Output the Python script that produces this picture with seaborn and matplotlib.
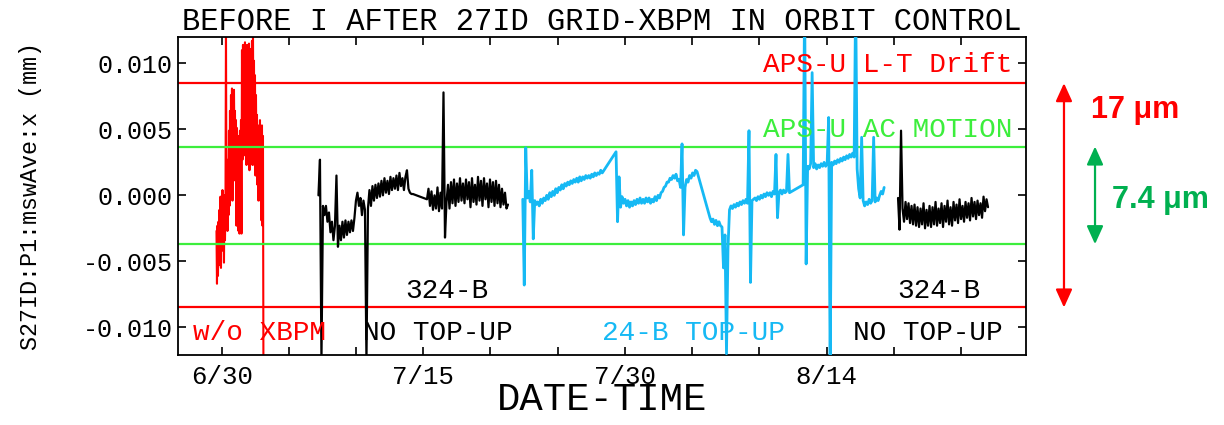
import numpy as np
import pandas as pd
import matplotlib
matplotlib.use("Agg")
import matplotlib.pyplot as plt
import matplotlib.transforms as mtransforms
import seaborn as sns

# ---------------------------------------------------------------------------
# Horizontal beam position S27ID:P1:mswAve:x, stored in micrometres.
# Time is counted in days after 6/30; each run is sampled at a fixed interval.
# ---------------------------------------------------------------------------
FAST_STEP = 0.0372   # days between samples, run without the XBPM
SLOW_STEP = 0.1116   # days between samples, all other runs

# w/o XBPM
wo_xbpm_start = -0.387
wo_xbpm_um = [
    -2.7, -6.7, -2.3, -6.1, -2.0, -5.3, -1.1, -4.5, -0.1, -5.5,
    -0.4, -4.2, 0.4, -3.8, -0.4, -5.1, 0.0, -3.4, -0.8, 13.0,
    -1.5, 1.5, -2.7, 2.7, -1.5, 4.9, -0.8, 6.4, 0.4, 7.6,
    1.5, 8.1, -0.4, 7.2, 2.3, 8.0, 3.4, 6.4, 1.1, 5.7,
    -2.3, 5.1, 0.0, 4.2, -2.7, 4.5, -2.9, 4.9, -0.4, 5.7,
    -2.9, 11.0, 2.7, 11.4, 4.2, 11.1, 3.4, 11.6, 3.0, 11.4,
    2.3, 11.0, 2.7, 11.4, 3.4, 11.5, 1.9, 11.1, 2.7, 10.8,
    3.8, 11.7, 2.3, 12.5, 3.4, 10.2, 2.3, 9.1, 1.5, 7.6,
    2.7, 6.1, 0.8, 5.3, -0.4, 4.9, 0.4, 5.7, -0.4, 4.5,
    -1.9, 5.3, -2.3, 4.5, -15.0,
]

# 324-B, no top-up (first period, two runs)
no_topup1a_start = 7.20
no_topup1a_um = [
    0.0, 2.7, -12.5, -0.8, -1.5, -0.8, -2.0, -1.3, -2.8, -2.0,
    -3.4, -2.3, 1.5, -3.9, -2.3, -3.4, -2.0, -3.2, -1.9, -3.0,
    -2.0, -2.8, -1.9, -2.7, -1.7, -0.4, 0.2, -0.8, -0.2, -1.5,
    -0.4, -1.1, -12.5, -1.0, 0.4, -0.8, 0.7, -0.4, 0.8, -0.2,
    0.9, -0.1, 1.1, 0.0, 1.3, 0.2, 1.1, 0.1, 1.4, 0.4,
    1.3, 0.5, 1.5, 0.4, 1.7, 0.7, 1.3, 0.4, 1.4, 1.9,
    0.5, 0.2, 0.1, 0.1,
]
no_topup1b_start = 15.275
no_topup1b_um = [
    -0.3, 0.5, -0.8, 0.3, -1.1, 0.0, -1.0, 0.6, -1.2, 0.2,
    -1.0, 7.8, -3.2, -0.5, 0.8, -1.0, 1.0, -0.6, 1.2, -0.8,
    0.9, -0.5, 1.3, -0.4, 0.9, -0.6, 1.2, -0.3, 1.0, -0.9,
    1.3, -0.5, 0.8, -0.7, 1.4, -0.4, 1.1, -0.8, 1.3, -0.3,
    0.9, -0.9, 1.2, -0.5, 1.0, -0.8, 1.1, -0.6, 0.8, -0.9,
    0.5, -0.7, 0.2, -1.0, -0.7,
]

# 24-B, top-up (four runs)
topup_a_start = 22.40
topup_a_um = [
    -0.3, -6.8, 3.6, -0.2, 0.3, -0.5, 1.9, -3.3, -0.4, -0.7,
    -0.5, -0.8, -0.3, -0.6, -0.2, -0.4, 0.0, -0.3, 0.2, -0.1,
    0.3, 0.0, 0.5, 0.2, 0.6, 0.4, 0.8, 0.5, 0.9, 0.7,
    1.0, 0.8, 1.1, 0.9, 1.2, 1.0, 1.3, 1.0, 1.4, 1.1,
    1.4, 1.2, 1.5, 1.3, 1.5, 1.3, 1.6, 1.4, 1.7, 1.5,
    1.7, 1.6, 1.9, 1.7,
]
topup_b_start = 29.34
topup_b_um = [
    3.3, -2.0, 1.4, -0.9, -0.1, -0.6, -0.3, -0.8, -0.4, -0.9,
    -0.5, -0.8, -0.4, -0.7, -0.3, -0.6, -0.2, -0.6, -0.3, -0.6,
    -0.2, -0.5, -0.2, -0.6, -0.3, -0.5, -0.1, -0.4, 0.0, -0.2,
    0.2, 0.3, 0.6, 0.7, 1.0, 1.0, 1.3, 1.2, 1.5, 1.3,
    1.6, 1.1, 1.2, 0.6, 3.9, -3.0, 0.6, 1.2, 1.0, 1.5,
    1.3, 1.7, 1.5, 1.9, 1.8,
]
topup_c_start = 36.33
topup_c_um = [
    -1.7, -2.0, -1.8, -2.2, -1.9, -2.3, -2.0, -2.3, -2.4, -5.5,
    -3.0, -12.0, -4.0, -1.1, -0.8, -1.0, -0.7, -0.9, -0.6, -0.8,
    -0.5, -0.7, -0.4, -0.6, -0.3, -0.6, 4.9, -6.6, -0.4, -0.3,
    -0.2, -0.4, -0.1, -0.3, 0.0, -0.2, 0.1, -0.1, 0.2, 0.0,
    0.2, -0.1, 0.3, 0.1, 3.1, -1.7, 0.2, 0.4, 0.1, 0.4,
    0.2, 0.3, 3.1, 0.2,
]
topup_d_start = 43.26
topup_d_um = [
    0.8, 15.0, -5.2, 2.2, 2.0, 2.4, 9.3, 2.1, 2.4, 2.0,
    2.3, 2.1, 2.4, 2.2, 2.5, 2.2, 2.4, 5.9, -13.0, 2.5,
    2.3, 2.6, 2.4, 2.7, 2.5, 2.8, 2.6, 2.9, 2.7, 3.0,
    2.8, 3.1, 2.9, 3.2, 2.9, 15.0, 2.0, 0.5, -0.2, 4.4,
    -0.4, -0.8, -0.5, -0.7, -0.3, -0.6, -0.4, 4.4, -0.5, -0.2,
    -0.4, 0.0, 0.3, 0.1, 0.6,
]

# 324-B, no top-up (second period)
no_topup2_start = 50.32
no_topup2_um = [
    -0.2, -2.6, 4.9, -1.0, -2.0, -0.5, -1.8, -0.6, -2.1, -0.8,
    -2.2, -0.7, -2.3, -0.9, -2.4, -1.0, -2.2, -0.6, -2.5, -1.1,
    -2.3, -0.8, -2.4, -0.9, -2.2, -0.5, -2.3, -1.0, -2.1, -0.6,
    -2.4, -0.8, -2.0, -0.4, -2.2, -0.9, -2.3, -0.5, -1.9, -0.7,
    -2.1, -0.3, -1.8, -0.8, -2.0, -0.5, -1.7, -0.6, -1.9, -0.2,
    -1.6, -0.5, -1.8, -0.4, -1.5, -0.6, -1.7, -0.1, -1.2, -0.3,
    -0.9,
]

# Stability specifications (full peak-to-peak band, micrometres)
lt_drift_um = 17.0
ac_motion_um = 7.4

# Axis ticks
date_tick_days = [0, 15, 30, 45]
date_tick_labels = ["6/30", "7/15", "7/30", "8/14"]
pos_ticks = [-0.010, -0.005, 0.000, 0.005, 0.010]
pos_tick_labels = ["-0.010", "-0.005", "0.000", "0.005", "0.010"]

title_text = "BEFORE I AFTER 27ID GRID-XBPM IN ORBIT CONTROL"
xlabel_text = "DATE-TIME"
ylabel_text = "S27ID:P1:mswAve:x (mm)"

# ---------------------------------------------------------------------------
RED = "#ff0000"
GREEN = "#3cee3c"
CYAN = "#16b9f4"
BLACK = "#000000"
DARK_GREEN = "#00b050"


def run_frame(start, step, values_um):
    values = np.asarray(values_um, dtype=float)
    return pd.DataFrame({
        "day": start + step * np.arange(len(values)),
        "pos_mm": values / 1000.0,
    })


# (data, colour, line width, z-order)
traces = {
    "wo_xbpm": (pd.concat([run_frame(wo_xbpm_start, FAST_STEP, wo_xbpm_um)]), RED, 1.5, 1),
    "no_topup1": (pd.concat([run_frame(no_topup1a_start, SLOW_STEP, no_topup1a_um),
                             run_frame(no_topup1b_start, SLOW_STEP, no_topup1b_um)]),
                  BLACK, 1.6, 3),
    "topup": (pd.concat([run_frame(topup_a_start, SLOW_STEP, topup_a_um),
                         run_frame(topup_b_start, SLOW_STEP, topup_b_um),
                         run_frame(topup_c_start, SLOW_STEP, topup_c_um),
                         run_frame(topup_d_start, SLOW_STEP, topup_d_um)]),
              CYAN, 2.0, 3),
    "no_topup2": (pd.concat([run_frame(no_topup2_start, SLOW_STEP, no_topup2_um)]),
                  BLACK, 1.6, 3),
}

sns.set_theme(style="ticks")
plt.rcParams["font.family"] = ["Liberation Mono", "DejaVu Sans Mono"]
plt.rcParams["axes.linewidth"] = 1.3

fig = plt.figure(figsize=(12.24, 4.25), dpi=100)
fig.patch.set_facecolor("white")
ax = fig.add_axes([0.14542, 0.16471, 0.69281, 0.74824])
ax.set_facecolor("white")

for name, (df, color, lw, z) in traces.items():
    sns.lineplot(data=df, x="day", y="pos_mm", ax=ax, color=color, lw=lw,
                 estimator=None, sort=False, legend=False, zorder=z)

# specification bands
for half in (lt_drift_um / 2, -lt_drift_um / 2):
    ax.axhline(half / 1000, color=RED, lw=1.6, zorder=2)
for half in (ac_motion_um / 2, -ac_motion_um / 2):
    ax.axhline(half / 1000, color=GREEN, lw=1.6, zorder=2)

ax.set_xlim(-3.25, 59.84)
ax.set_ylim(-0.0121, 0.0120)

x_ticks = np.arange(0, 60, 5)
ax.set_xticks(x_ticks)
ax.set_xticklabels([date_tick_labels[date_tick_days.index(t)] if t in date_tick_days else ""
                    for t in x_ticks])
ax.set_yticks(pos_ticks)
ax.set_yticklabels(pos_tick_labels)

ax.tick_params(axis="both", direction="in", length=6, width=1.2,
               top=True, right=True, colors=BLACK)
ax.tick_params(axis="x", labelsize=18.5, pad=7)
ax.tick_params(axis="y", labelsize=18, pad=4)
for sp in ax.spines.values():
    sp.set_color(BLACK)
    sp.set_linewidth(1.3)
    sp.set_visible(True)

ax.set_title(title_text, fontsize=22, pad=5, color=BLACK)
ax.set_xlabel(xlabel_text, fontsize=28, color=BLACK)
ax.xaxis.set_label_coords(0.5, -0.085)
ax.set_ylabel(ylabel_text, fontsize=16.8, color=BLACK)
ax.yaxis.set_label_coords(-0.160, 0.5)

# in-plot annotations
txt_kw = dict(fontsize=20, ha="left", va="baseline")
ax.text(40.26, 0.00932, "APS-U L-T Drift", color=RED, **txt_kw)
ax.text(40.26, 0.00439, "APS-U AC MOTION", color=GREEN, **txt_kw)
ax.text(13.64, -0.0078, "324-B", color=BLACK, **txt_kw)
ax.text(50.24, -0.0078, "324-B", color=BLACK, **txt_kw)
ax.text(-2.14, -0.01099, "w/o XBPM", color=RED, **txt_kw)
ax.text(10.51, -0.01099, "NO TOP-UP", color=BLACK, **txt_kw)
ax.text(28.30, -0.01099, "24-B TOP-UP", color=CYAN, **txt_kw)
ax.text(46.97, -0.01099, "NO TOP-UP", color=BLACK, **txt_kw)

# band-width arrows on the right
trans = mtransforms.blended_transform_factory(ax.transAxes, ax.transData)
for xfrac, span_um, color in ((1.0448, lt_drift_um, RED), (1.0814, ac_motion_um, DARK_GREEN)):
    ax.annotate("", xy=(xfrac, span_um / 2000), xytext=(xfrac, -span_um / 2000),
                xycoords=trans, textcoords=trans, annotation_clip=False,
                arrowprops=dict(arrowstyle="<|-|>,head_length=1.1,head_width=0.5",
                                mutation_scale=10, color=color, lw=1.6,
                                shrinkA=0, shrinkB=0))

lbl_kw = dict(fontsize=22, fontweight="bold", family=["Liberation Sans", "DejaVu Sans"],
              ha="left", va="baseline", transform=trans, clip_on=False)
ax.text(1.0767, 0.00583, f"{lt_drift_um:g} \u03bcm", color=RED, **lbl_kw)
ax.text(1.1014, -0.00098, f"{ac_motion_um:g} \u03bcm", color=DARK_GREEN, **lbl_kw)

fig.savefig("out.png", dpi=100, facecolor="white")
